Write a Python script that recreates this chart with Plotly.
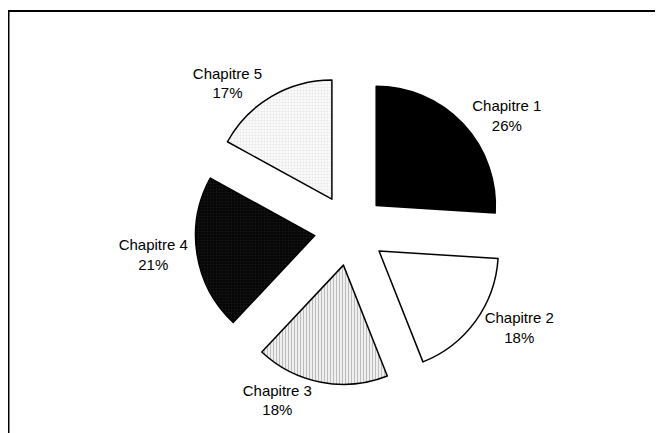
import plotly.graph_objects as go

labels = ["Chapitre 1", "Chapitre 2", "Chapitre 3", "Chapitre 4", "Chapitre 5"]
values = [26, 18, 18, 21, 17]

fill_bg = ["#000000", "#ffffff", "#ffffff", "#000000", "#ffffff"]
fill_fg = ["#000000", "#ffffff", "#7a7a7a", "#262626", "#d6d6d6"]
fill_shape = ["", "", "|", ".", "."]
pulls = [0.3] * len(values)

fig = go.Figure(go.Pie(
    labels=labels,
    values=values,
    sort=False,
    direction="clockwise",
    rotation=0,
    pull=pulls,
    textposition="outside",
    texttemplate="%{label}<br>%{percent:.0%}",
    textfont=dict(family="Liberation Sans, Arial, sans-serif", size=15, color="#000000"),
    marker=dict(
        colors=fill_bg,
        line=dict(color="#000000", width=1.5),
        pattern=dict(shape=fill_shape, fgcolor=fill_fg, bgcolor=fill_bg,
                     size=3, solidity=0.5, fillmode="overlay"),
    ),
    domain=dict(x=[0.236, 0.796], y=[0.1293, 0.8453]),
    showlegend=False,
    hoverinfo="label+percent",
))

fig.update_layout(
    width=663, height=433,
    margin=dict(l=0, r=0, t=0, b=0, autoexpand=False),
    paper_bgcolor="#ffffff",
    shapes=[dict(type="rect", xref="paper", yref="paper",
                 x0=0.5/663, x1=1.05, y0=-0.05, y1=1-3/433,
                 line=dict(color="#000000", width=2), fillcolor="rgba(0,0,0,0)")],
)

fig.write_html("out.html")
